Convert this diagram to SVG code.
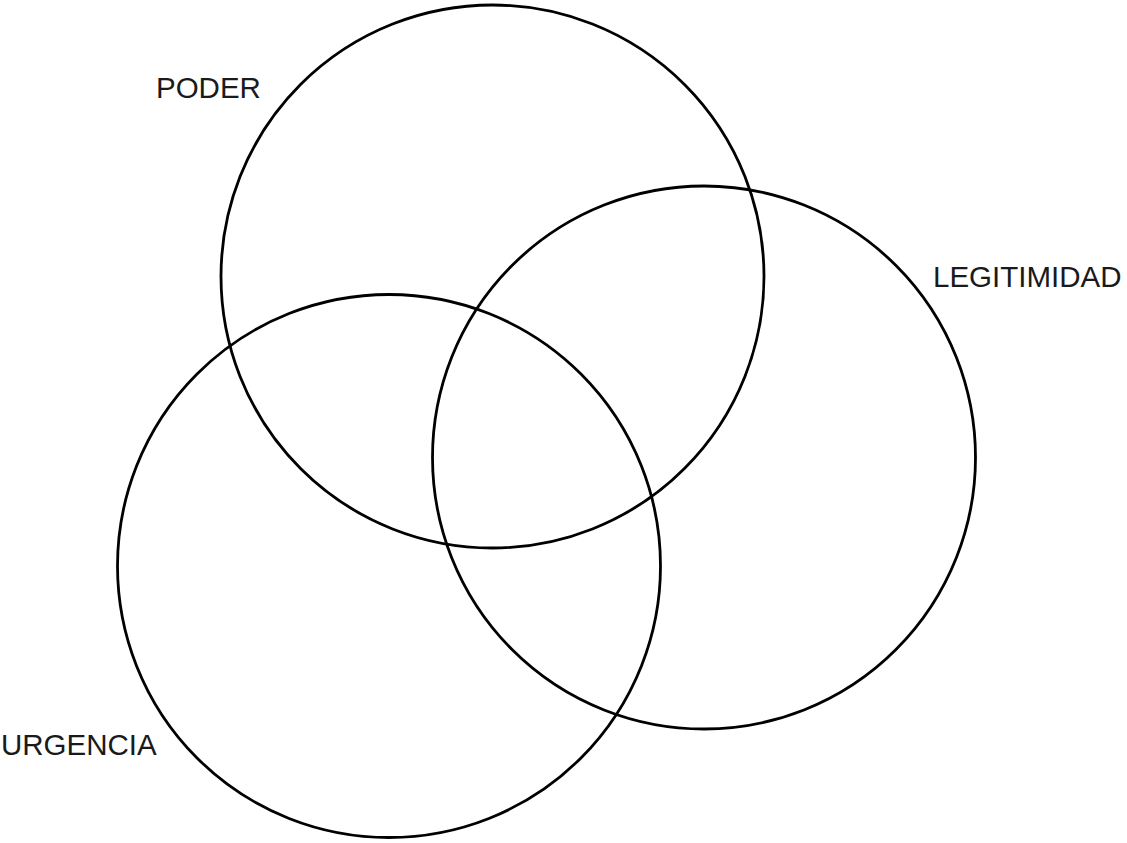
<svg xmlns="http://www.w3.org/2000/svg" width="1127" height="843" viewBox="0 0 1127 843">
<style>
.c{fill:none;stroke:#000;stroke-width:2.8}
.t{font-family:"Liberation Sans",Arial,sans-serif;font-size:29.5px;fill:#1a1a1a}
</style>
<rect width="1127" height="843" fill="#fff"/>
<g id="poder">
<circle class="c" cx="492.5" cy="276.5" r="271.5"/>
<text class="t" x="156" y="98">PODER</text>
</g>
<g id="legitimidad">
<circle class="c" cx="704" cy="457.5" r="271.5"/>
<text class="t" x="933" y="287">LEGITIMIDAD</text>
</g>
<g id="urgencia">
<circle class="c" cx="389" cy="566" r="271.5"/>
<text class="t" x="1" y="755">URGENCIA</text>
</g>
<g id="connectors"/>
</svg>
